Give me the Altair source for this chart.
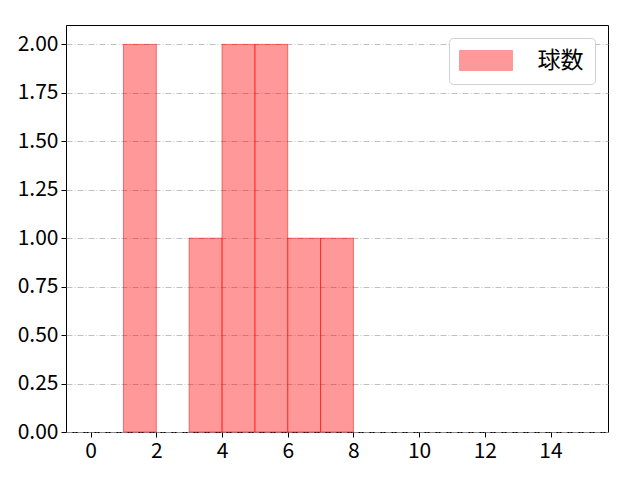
import altair as alt
import pandas as pd

bin_start = [1, 3, 4, 5, 6, 7]
bin_end = [2, 4, 5, 6, 7, 8]
counts = [2, 1, 2, 2, 1, 1]
series = ["球数"] * 6
x_ticks = [0, 2, 4, 6, 8, 10, 12, 14]
y_ticks = [0, 0.25, 0.5, 0.75, 1.0, 1.25, 1.5, 1.75, 2.0]

df = pd.DataFrame({"start": bin_start, "end": bin_end, "count": counts, "s": series})

FONT = "Noto Sans CJK JP"

chart = alt.Chart(df).mark_bar(
    fillOpacity=0.4, stroke="#ff0000", strokeOpacity=0.5, strokeWidth=1
).encode(
    x=alt.X("start:Q", scale=alt.Scale(domain=[-0.75, 15.75], nice=False, zero=False),
            axis=alt.Axis(values=x_ticks, format="d", title=None, grid=False,
                          labelFontSize=21, labelFont=FONT, labelColor="black",
                          tickColor="black", domainColor="black", tickSize=5,
                          labelPadding=3)),
    x2="end:Q",
    y=alt.Y("count:Q", scale=alt.Scale(domain=[0, 2.1], nice=False),
            axis=alt.Axis(values=y_ticks, format=".2f", title=None,
                          grid=True, gridColor="#b0b0b0", gridDash=[6, 2, 1, 2],
                          gridWidth=0.8,
                          labelFontSize=21, labelFont=FONT, labelColor="black",
                          tickColor="black", domainColor="black", tickSize=5,
                          labelPadding=3)),
    y2=alt.datum(0),
    fill=alt.Fill("s:N", scale=alt.Scale(range=["#ff0000"]),
                  legend=alt.Legend(title=None, orient="top-right", offset=13,
                                    symbolType="M-2.65,-1H2.65V1H-2.65Z",
                                    symbolSize=400, symbolOpacity=0.4,
                                    symbolOffset=14.5,
                                    symbolStrokeColor="#ff0000", symbolStrokeWidth=1,
                                    labelFontSize=23, labelFont=FONT, labelColor="black",
                                    labelOffset=40,
                                    fillColor="white", strokeColor="#d0d0d0",
                                    cornerRadius=4, padding=11)),
).properties(
    width=542, height=407,
    autosize=alt.AutoSizeParams(type="none"),
    padding={"left": 58, "top": 17, "right": 24, "bottom": 40},
).configure_view(
    stroke="black", strokeWidth=1
).configure_axis(domain=False)

chart.save("out.html", embed_options={"renderer": "svg", "actions": False})
